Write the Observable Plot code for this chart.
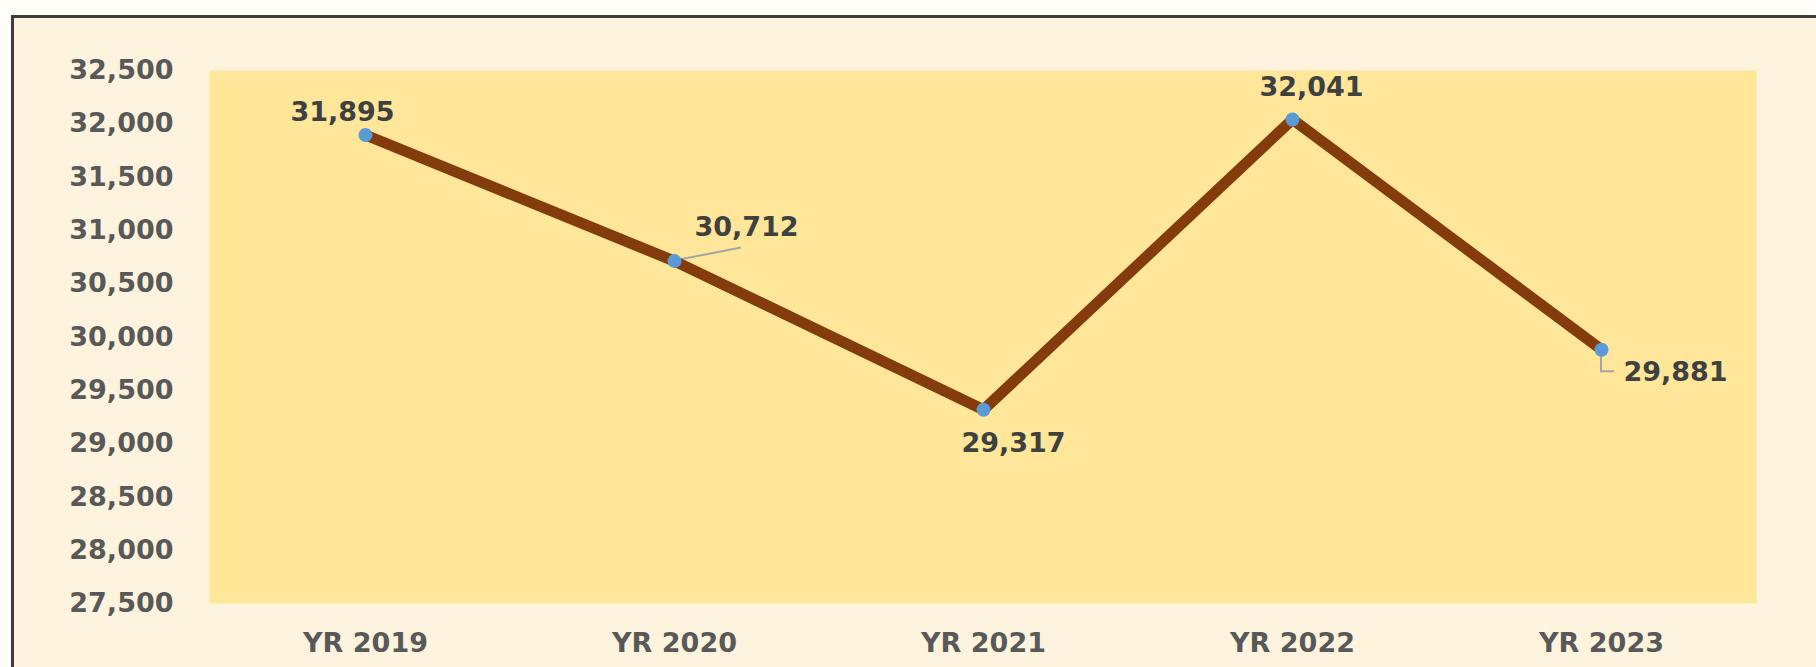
<!DOCTYPE html>
<html>
<head>
<meta charset="utf-8">
<script src="https://cdn.jsdelivr.net/npm/d3@7"></script>
<script src="https://cdn.jsdelivr.net/npm/@observablehq/plot@0.6"></script>
<style>
  html, body { margin: 0; padding: 0; background: #FEFDF8; }
  #wrap { position: relative; width: 1816px; height: 667px; overflow: hidden; background: #FEFDF8; }
  #panel { position: absolute; left: 11px; top: 15px; width: 1830px; height: 700px;
           background: #FEF4DD; border-left: 3px solid #3C3C3C; border-top: 3px solid #3C3C3C; }
  #chart { position: absolute; left: 0; top: 0; }
  #chart svg { background: transparent; }
</style>
</head>
<body>
<div id="wrap"><div id="panel"></div><div id="chart"></div></div>
<script>
// ---- data ----
const years = ["YR 2019", "YR 2020", "YR 2021", "YR 2022", "YR 2023"];
const values = [31895, 30712, 29317, 32041, 29881];
const yTicks = [27500, 28000, 28500, 29000, 29500, 30000, 30500, 31000, 31500, 32000, 32500];

// ---- label placement (layout only) ----
const labelDx = [-23, 72, 30, 19, 74];
const labelDy = [-23, -34, 34, -32, 23];

const rows = years.map((year, i) => ({ year, value: values[i], i }));

const font = "'DejaVu Sans', Verdana, sans-serif";

// leader lines for offset labels (custom render using plot scales)
function leaders(index, scales) {
  const g = d3.create("svg:g").attr("fill", "none").attr("stroke", "#A6A6A6").attr("stroke-width", 2);
  {
    const d = rows[1];
    const px = scales.x(d.year), py = scales.y(d.value);
    g.append("path").attr("d", `M${px},${py}L${px + 67},${py - 13}`);
  }
  {
    const d = rows[4];
    const px = scales.x(d.year), py = scales.y(d.value);
    g.append("path").attr("d", `M${px},${py}V${py + 22}H${px + 13}`);
  }
  return g.node();
}

const chart = Plot.plot({
  width: 1816,
  height: 667,
  marginLeft: 209,
  marginRight: 60,
  marginTop: 70,
  marginBottom: 64,
  style: { background: "transparent", fontFamily: font, overflow: "visible" },
  x: { type: "point", domain: years, padding: 0.5, label: null },
  y: { domain: [27500, 32500], label: null },
  marks: [
    Plot.frame({ fill: "#FFE699", stroke: null }),
    Plot.axisY({ ticks: yTicks, tickFormat: d3.format(","), tickSize: 0, tickPadding: 36,
                 fontSize: 27, fontWeight: "bold", fill: "#595959", label: null }),
    Plot.axisX({ tickSize: 0, tickPadding: 29, fontSize: 27, fontWeight: "bold", fill: "#595959", label: null }),
    leaders,
    Plot.line(rows, { x: "year", y: "value", stroke: "#843C0C", strokeWidth: 11, strokeLinejoin: "round", strokeLinecap: "butt" }),
    Plot.dot(rows, { x: "year", y: "value", r: 7, fill: "#5B9BD5", stroke: null }),
    ...rows.map((d, i) => Plot.text([d], {
      x: "year", y: "value", text: r => d3.format(",")(r.value),
      dx: labelDx[i], dy: labelDy[i],
      fontSize: 27, fontWeight: "bold", fill: "#404040"
    }))
  ]
});
document.getElementById("chart").appendChild(chart);
</script>
</body>
</html>
